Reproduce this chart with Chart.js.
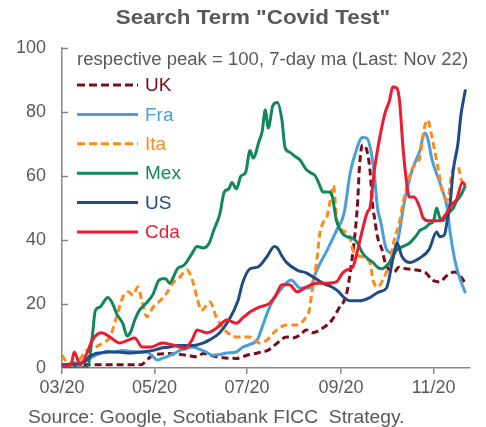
<!DOCTYPE html>
<html>
<head>
<meta charset="utf-8">
<script src="https://cdn.jsdelivr.net/npm/chart.js@4.4.0/dist/chart.umd.min.js"></script>
<style>
  html, body { margin: 0; padding: 0; background: #fff; }
</style>
</head>
<body>
<canvas id="mainChart" width="486" height="427"></canvas>
<script>
// days counted from Mar 1 2020
var tickDays = [0, 61, 122, 184, 245],
  tickLabels = ['03/20', '05/20', '07/20', '09/20', '11/20'],
  yTicks = [0, 20, 40, 60, 80, 100];

var ukDays = [0,8,10,20,30,40,52,56,60,70,82,89,93,102,115,122,129,136,142,148,152,157,161,165,172,178,183,186,188,190,192,194,195,196,198,201,203,205,206,208,211,213,216,219,222,227,234,240,244,249,254,259,263,266],
  ukVals = [0.5,0.5,1,1,1,1,1,2.5,4,4.5,4,3.5,4.5,3.5,3,4,4.7,5.6,7.8,9.7,9.4,10.3,11.9,11,12.5,15,19,21,24,29.7,37,46,52.5,62,69.7,68,62,50,47,41,37,33,30.6,30,31.5,31,30.6,29.7,27.5,26.9,29,30,28.4,26.5];

var fraDays = [0,10,15,20,25,30,35,40,45,50,56,60,63,66,69,74,78,82,86,90,95,99,104,109,115,119,123,129,132,136,139,145,151,157,163,168,175,181,186,190,194,198,201,204,206,208,210,214,218,221,226,231,236,239,241,244,249,254,256,259,262,266],
  fraVals = [1,1,2,3.5,4.5,5.2,5,5.5,5.2,5,5,3.5,2.5,3,3.5,4.5,5.6,6,6.6,6,5,4,4.2,4.7,5,6.5,7.2,9,12.8,18,21,25,27.5,25,25,30.6,37,43,48.4,61,68,72,71.8,67,60,50,46,37,36,39,52.5,62,68,73.4,72,65,58,50,42,33.7,28.4,23.4];

var itaDays = [0,4,10,16.5,22,27,31.6,36,40,43.5,46.8,50,52.7,56,60,64.6,69,73,77.7,82.3,85.6,89,92,97.5,102,108.7,115,124,130,135,141.6,148,155,161,163,165,168,170,172,174.6,176.5,179,181,183,189.7,191.7,196,203,205,208,211.5,216,219,222.7,224.6,230.6,236,239,241,244,247.7,251,254,257.6,261,264,266],
  itaVals = [4,1.5,2,5.6,6.5,7.8,9.7,16,22,23.8,22.8,25.3,21,16,19,21,23.4,26.5,28.4,30.6,28,22,18,20.6,15.6,11.2,9.7,9.7,7.8,8.7,11.9,13.4,13.4,16,18,24.4,33.7,42,45.3,47,51.5,57,47,44,41,37,35,33,27.5,25.3,27.5,33,40,46,51,62,66,75.3,77.5,72,63,54.7,52.5,62,63,58,58];

var mexDays = [0,10,17,20,22,25,28,30,33,36,40,43,45,48,51,55,60,64,68,71,74,76,80,82,86,89,93,97,100,104,107,110,112,115,118,121,124,126,130,132,134,136,139,142,145,147,150,154,157,161,164,167,170,172,176,178,181,185,188,192,195,198,202,205,208,211,214,216,218,221,225,229,233,236,240,242,245,247,249,251,254,256,258,260,263,266],
  mexVals = [0,0,0.5,10,18,19,21,22,20.5,17,14,10,11,15,18,20,23,27.5,28,26.5,29,31,32,33,36,38,37.5,39,43,48,55,56,58,56,60,61,68,65.6,71,74,80.6,75,82,83,77.5,69,67.5,66,65,62,61,60,57,55,55,54,46,42,41,40.5,39,36,34,33,31.5,31,32,33,35,37,38,39,41,43,44,45,46,50,47,46,48,49,50,52,54,57];

var usDays = [0,12,15,18,22,25,31,37,43,48,53,60,65,70,76,86,93,97,104,110,116,119,124,129,135,140,142,145,148,155,161,167,172,178,182,186,190,196,203,209,214,218,221,224,229,236,242,247,249,252,254,256,258,261,263,266],
  usVals = [1,1.5,2,3.5,4.5,4.7,5,5,4.7,4.8,5,5.5,6.2,6.5,7,7,7.8,8.7,11,15,21,26.5,31,31.5,34.7,38,37.5,35,33,30.6,29.7,28,26.5,25.3,24,22,21,21,22,23.8,25,33.7,39,35,33,34.4,37,42.5,41,41.5,46,52,62,70,79,87];

var cdaDays = [0,6,8,12,16.5,20,26,31.6,38,43.5,48,52.7,59,66,73,81,86,89,95.5,102,108.7,115,119,124,130,137,141,145,150,155,161,168,174.6,181,185,187.5,191.7,195,198,201.6,203,206,209.5,213,216,218,220.7,222.7,224.6,227,229,232,236,238,242,249,253.6,257.6,260,264,266],
  cdaVals = [0.5,1,5,1,4.7,8.7,11,9.7,7.8,8.7,9.4,6.6,6.6,7.8,7.2,6.2,9,11.9,11,12.5,15,14,15.6,17.5,19,20.3,22.8,26,26,23.8,25.3,26.5,26.5,27,29.7,30.6,31.5,37,43,49,50,62,72,79.7,83.7,87.8,87.5,82.8,70.3,58.7,53.4,53.4,50,47,46,46,48.4,51.5,52.5,58,57];

var grey = '#595959',
  axisGrey = '#868686',
  family = '"Liberation Sans", Arial, sans-serif';

function pts (days, vals) {
  return days.map(function (d, i) { return { x: d, y: vals[i] }; });
}

function series (label, days, vals, color, dashed, order) {
  return {
    label: label,
    data: pts(days, vals),
    borderColor: color,
    borderWidth: 3,
    borderDash: dashed ? [7, 4] : [],
    pointRadius: 0,
    cubicInterpolationMode: 'monotone',
    fill: false,
    order: order
  };
}

// text a little wider than the font, like the original picture
function stretchText (c, text, x, y, sx) {
  c.save();
  c.translate(x, y);
  c.scale(sx, 1);
  c.fillText(text, 0, 0);
  c.restore();
}

// title, note, legend, source and the inner y ticks
var extras = {
  id: 'extras',
  afterDraw: function (chart) {
    var c = chart.ctx, area = chart.chartArea, ys = chart.scales.y;
    c.save();
    c.strokeStyle = axisGrey;
    c.lineWidth = 1.5;
    yTicks.forEach(function (v) {
      if (v === 0) return;
      var py = Math.round(ys.getPixelForValue(v)) + 0.5;
      c.beginPath();
      c.moveTo(area.left, py);
      c.lineTo(area.left + 6, py);
      c.stroke();
    });

    c.textBaseline = 'middle';
    c.fillStyle = grey;
    c.textAlign = 'center';
    c.font = 'bold 20px ' + family;
    stretchText(c, 'Search Term "Covid Test"', 253, 18, 1.12);

    c.textAlign = 'left';
    c.font = '18px ' + family;
    stretchText(c, 'respective peak = 100, 7-day ma (Last: Nov 22)', 77, 60, 1.03);

    chart.data.datasets.forEach(function (ds, i) {
      var ly = 85 + i * 29.4;
      c.strokeStyle = ds.borderColor;
      c.lineWidth = 3;
      c.setLineDash(ds.borderDash.length ? [8, 4] : []);
      c.beginPath();
      c.moveTo(77, ly);
      c.lineTo(138, ly);
      c.stroke();
      c.setLineDash([]);
      c.fillStyle = ds.borderColor;
      c.font = '19px ' + family;
      c.fillText(ds.label, 145, ly + 1);
    });

    c.fillStyle = grey;
    c.font = '18px ' + family;
    stretchText(c, 'Source: Google, Scotiabank FICC  Strategy.', 28, 418, 1.07);
    c.restore();
  }
};

var ctx = document.getElementById('mainChart');

new Chart(ctx, {
  type: 'line',
  data: {
    datasets: [
      series('UK', ukDays, ukVals, '#7a0c1c', true, 5),
      series('Fra', fraDays, fraVals, '#4a9fd6', false, 4),
      series('Ita', itaDays, itaVals, '#ff8a1c', true, 3),
      series('Mex', mexDays, mexVals, '#12875c', false, 2),
      series('US', usDays, usVals, '#1f4c85', false, 1),
      series('Cda', cdaDays, cdaVals, '#ec1b30', false, 0)
    ]
  },
  options: {
    responsive: false,
    animation: false,
    layout: { padding: { top: 48, right: 16, bottom: 0, left: 0 } },
    plugins: {
      legend: { display: false },
      title: { display: false },
      tooltip: { enabled: false }
    },
    scales: {
      x: {
        type: 'linear',
        min: 0,
        max: 269,
        afterBuildTicks: function (s) { s.ticks = tickDays.map(function (v) { return { value: v }; }); },
        afterFit: function (s) { s.height = 59; },
        grid: { drawOnChartArea: false, drawTicks: true, tickLength: 6, color: axisGrey, lineWidth: 1.5 },
        border: { color: axisGrey, width: 1.5 },
        ticks: {
          autoSkip: false,
          maxRotation: 0,
          padding: 3,
          color: grey,
          font: { size: 18, family: family },
          callback: function (v, i) { return tickLabels[i]; }
        }
      },
      y: {
        min: 0,
        max: 100,
        afterBuildTicks: function (s) { s.ticks = yTicks.map(function (v) { return { value: v }; }); },
        afterFit: function (s) { s.width = 62; },
        grid: { drawOnChartArea: false, drawTicks: false, color: axisGrey, lineWidth: 1.5 },
        border: { color: axisGrey, width: 1.5 },
        ticks: {
          padding: 16,
          color: grey,
          font: { size: 18, family: family }
        }
      }
    }
  },
  plugins: [extras]
});
</script>
</body>
</html>
